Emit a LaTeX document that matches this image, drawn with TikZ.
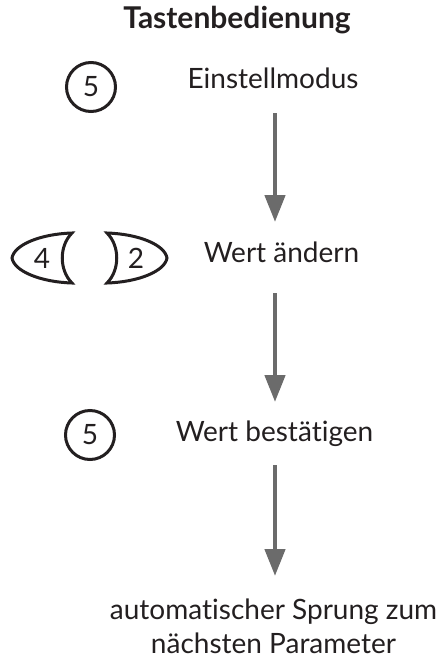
\documentclass[tikz,border=0pt]{standalone}
\usepackage{fontspec}
\setmainfont{Lato}[Ligatures=NoCommon]
\usetikzlibrary{arrows.meta}
\definecolor{arrowgray}{HTML}{6B6B6B}
\definecolor{ink}{HTML}{231F20}
\tikzset{
  lbl/.style={anchor=base, inner sep=0pt, text=ink, font=\fontsize{28}{34}\selectfont},
  ttl/.style={anchor=base, inner sep=0pt, text=ink, font=\fontsize{30}{34}\selectfont\bfseries},
  keyc/.style={circle, draw=ink, line width=3pt, minimum size=49pt, inner sep=0pt, text=ink, font=\fontsize{28}{30}\selectfont},
  keyshape/.style={draw=ink, line width=3pt, line join=miter},
  digit/.style={inner sep=0pt, text=ink, font=\fontsize{28}{30}\selectfont},
  flow/.style={draw=arrowgray, line width=4.5pt, -{Triangle[length=27pt,width=20pt]}, arrowgray}
}
\begin{document}
\begin{tikzpicture}[x=1pt,y=-1pt]
\useasboundingbox (0,0) rectangle (441,659);
% title
\node[ttl] (title) at (237,28) {Tastenbedienung};
% step 1
\node[keyc] (k5a) at (91,87) {5};
\node[lbl] (t1) at (273,88) {Einstellmodus};
% step 2
\draw[keyshape] (72,233) .. controls (40,234) and (14,245) .. (12,258)
  .. controls (14,271) and (40,282) .. (72,283)
  .. controls (59,270) and (59,246) .. cycle;
\node[digit] (k4) at (42,258) {4};
\draw[keyshape] (107,233) .. controls (139,234) and (165,245) .. (167,258)
  .. controls (165,271) and (139,282) .. (107,283)
  .. controls (120,270) and (120,246) .. cycle;
\node[digit] (k2) at (136,258) {2};
\node[lbl] (t2) at (281.5,262) {Wert ändern};
% step 3
\node[keyc] (k5b) at (90,435) {5};
\node[lbl] (t3) at (274.5,441) {Wert bestätigen};
% step 4
\node[lbl, align=center] (t4) at (273.5,653) {automatischer Sprung zum\\nächsten Parameter};
% arrows
\coordinate (a1s) at (275,113); \coordinate (a1e) at (275,222);
\coordinate (a2s) at (275,293); \coordinate (a2e) at (275,402);
\coordinate (a3s) at (275,465); \coordinate (a3e) at (275,576);
\draw[flow] (a1s) -- (a1e);
\draw[flow] (a2s) -- (a2e);
\draw[flow] (a3s) -- (a3e);
\end{tikzpicture}
\end{document}
